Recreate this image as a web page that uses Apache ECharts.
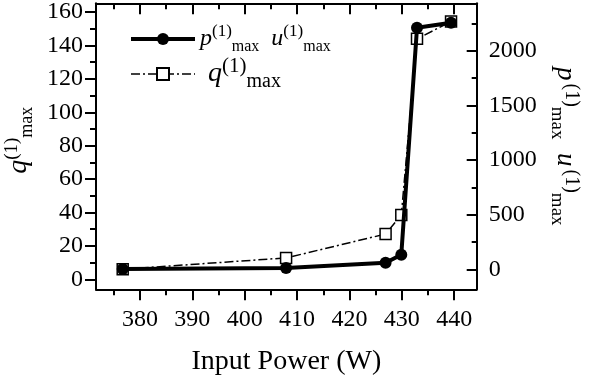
<!DOCTYPE html>
<html lang="en">
<head>
<meta charset="UTF-8">
<title>Input Power</title>
<style>
	html, body { margin: 0; padding: 0; background: #fff; }
	#main { width: 589px; height: 377px; }
</style>
</head>
<body>
<div id="main"></div>
<script src="https://cdn.jsdelivr.net/npm/echarts@6.0.0/dist/echarts.min.js"></script>
<script type="text/javascript">
	// input power (W)
	var power = [376.7, 407.9, 426.9, 429.9, 432.9, 439.4];
	// q(1)max -> left axis
	var qMax = [6, 12.8, 27.1, 38.5, 144, 154.4];
	// p(1)max u(1)max -> right axis
	var puMax = [3, 12, 60, 134, 2210, 2256];

	// tick positions
	var xMajor = [380, 390, 400, 410, 420, 430, 440];
	var xMinor = [375, 385, 395, 405, 415, 425, 435];
	var qMajor = [0, 20, 40, 60, 80, 100, 120, 140, 160];
	var qMinor = [10, 30, 50, 70, 90, 110, 130, 150];
	var puMajor = [0, 500, 1000, 1500, 2000];
	var puMinor = [250, 750, 1250, 1750, 2250];

	var serif = 'Liberation Serif';
	var black = '#000';

	var myChart = echarts.init(document.getElementById('main'));

	// one axis; main ones get the line and labels, the others only carry ticks
	function axis(pos, min, max, ticks, len, inside, labels, margin, showLine) {
		return {
			type: 'value',
			position: pos,
			min: min,
			max: max,
			axisLine: { show: showLine, onZero: false, lineStyle: { color: black, width: 2 } },
			axisTick: { show: true, customValues: ticks, length: len, inside: inside,
				lineStyle: { color: black, width: 2 } },
			axisLabel: labels ? { show: true, customValues: labels, margin: margin, fontSize: 24,
				fontFamily: serif, color: black,
				formatter: function (v) { return String(v); } } : { show: false },
			splitLine: { show: false }
		};
	}

	var xBottom = axis('bottom', 371.6, 444.3, xMajor, 11, false, xMajor, 18, true);
	xBottom.name = 'Input Power (W)';
	xBottom.nameLocation = 'middle';
	xBottom.nameGap = 58;
	xBottom.nameTextStyle = { fontSize: 28, fontFamily: serif, color: black };

	var yLeft = axis('left', -6, 165.3, qMajor, 11, false, qMajor, 13, true);
	yLeft.name = '{i|q}{s|(1)}{b|max}';
	yLeft.nameLocation = 'middle';
	yLeft.nameRotate = 90;
	yLeft.nameGap = 54;
	yLeft.nameTextStyle = {
		padding: [0, 0, 0, 12],
		rich: {
			i: { fontSize: 28, fontStyle: 'italic', fontFamily: serif, color: black, lineHeight: 34, verticalAlign: 'middle' },
			s: { fontSize: 19, fontFamily: serif, color: black, lineHeight: 19, verticalAlign: 'top' },
			b: { fontSize: 18, fontFamily: serif, color: black, lineHeight: 18, verticalAlign: 'bottom' }
		}
	};

	var yRight = axis('right', -183, 2434, puMajor, 10, true, puMajor, 12, true);
	yRight.name = '{i|p}{s|(1)}{b|max}{i|  u}{s|(1)}{b|max}';
	yRight.nameLocation = 'middle';
	yRight.nameRotate = -90;
	yRight.nameGap = 70;
	yRight.nameTextStyle = {
		rich: {
			i: { fontSize: 27, fontStyle: 'italic', fontFamily: serif, color: black, lineHeight: 34, verticalAlign: 'middle' },
			s: { fontSize: 20, fontFamily: serif, color: black, lineHeight: 20, verticalAlign: 'top', padding: [0, 0, 0, 3] },
			b: { fontSize: 19, fontFamily: serif, color: black, lineHeight: 19, verticalAlign: 'bottom' }
		}
	};

	var option = {
		animation: false,
		grid: { left: 96, right: 112.3, top: 3.3, bottom: 87.7, containLabel: false, outerBoundsMode: 'none' },
		xAxis: [
			xBottom,
			axis('bottom', 371.6, 444.3, xMinor, 6, false, null, 0, false),
			axis('top', 371.6, 444.3, xMajor, 11, true, null, 0, true),
			axis('top', 371.6, 444.3, xMinor, 6, true, null, 0, false)
		],
		yAxis: [
			yLeft,
			yRight,
			axis('left', -6, 165.3, qMinor, 6, false, null, 0, false),
			axis('right', -183, 2434, puMinor, 5, true, null, 0, false)
		],
		legend: {
			orient: 'vertical',
			left: 124,
			top: 18,
			itemWidth: 64,
			itemHeight: 15,
			itemGap: 1,
			data: [
				{ name: 'pu', lineStyle: { width: 4, color: black }, itemStyle: { color: black } },
				{ name: 'q', lineStyle: { width: 1.5, color: black, type: [9, 3, 2, 3] } }
			],
			formatter: function (name) {
				if (name === 'pu') return '{i|p}{s|(1)}{b|max}{i|  u}{s|(1)}{b|max}';
				return '{j|q}{t|(1)}{c|max}';
			},
			textStyle: {
				rich: {
					i: { fontSize: 24, fontStyle: 'italic', fontFamily: serif, color: black, lineHeight: 32, verticalAlign: 'middle' },
					s: { fontSize: 17, fontFamily: serif, color: black, lineHeight: 17, verticalAlign: 'top' },
					b: { fontSize: 16, fontFamily: serif, color: black, lineHeight: 16, verticalAlign: 'bottom' },
					j: { fontSize: 28, fontStyle: 'italic', fontFamily: serif, color: black, lineHeight: 36, verticalAlign: 'middle', padding: [0, 0, 0, 8] },
					t: { fontSize: 21, fontFamily: serif, color: black, lineHeight: 21, verticalAlign: 'top' },
					c: { fontSize: 20, fontFamily: serif, color: black, lineHeight: 20, verticalAlign: 'bottom' }
				}
			}
		},
		series: [{
			name: 'q',
			type: 'line',
			xAxisIndex: 0,
			yAxisIndex: 0,
			data: power.map(function (x, i) { return [x, qMax[i]]; }),
			symbol: 'rect',
			symbolSize: 11,
			showAllSymbol: true,
			itemStyle: { color: '#fff', borderColor: black, borderWidth: 1.5 },
			lineStyle: { color: black, width: 1.5, type: [9, 3, 2, 3] },
			z: 2
		}, {
			name: 'pu',
			type: 'line',
			xAxisIndex: 0,
			yAxisIndex: 1,
			data: power.map(function (x, i) { return [x, puMax[i]]; }),
			symbol: 'circle',
			symbolSize: 12,
			showAllSymbol: true,
			itemStyle: { color: black },
			lineStyle: { color: black, width: 4 },
			z: 3
		}]
	};

	myChart.setOption(option);
</script>
</body>
</html>
